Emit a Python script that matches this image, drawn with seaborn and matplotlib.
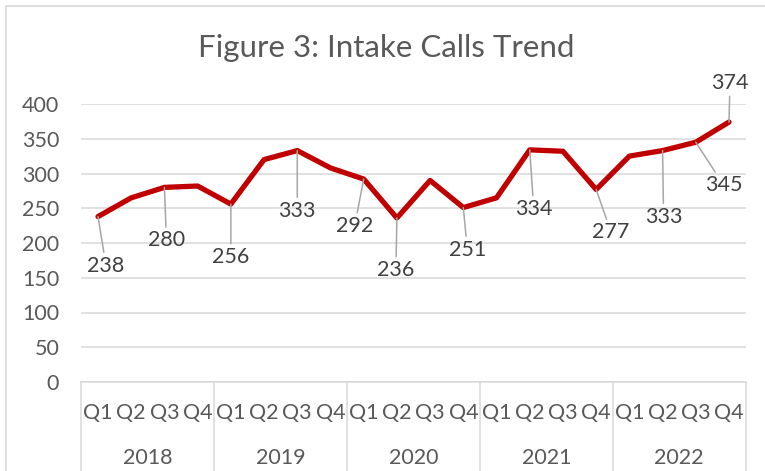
import matplotlib
matplotlib.use("Agg")
import matplotlib.pyplot as plt
import matplotlib.transforms as mtransforms
from matplotlib.lines import Line2D
import seaborn as sns
import pandas as pd

# ---- data ----
years = ["2018", "2019", "2020", "2021", "2022"]
quarters = ["Q1", "Q2", "Q3", "Q4"]
calls = [238, 265, 280, 282, 256, 320, 333, 308, 292, 236,
         290, 251, 265, 334, 332, 277, 325, 333, 345, 374]
labeled_idx = [0, 2, 4, 6, 8, 9, 11, 13, 15, 17, 18, 19]
title = "Figure 3: Intake Calls Trend"

# label offsets in pixels (layout only)
label_offsets = [(8, -49), (2, -53), (0, -53), (0, -60), (-9, -47), (-1, -52),
                 (4, -42), (4, -59), (15, -43), (1, -66), (28, -43), (1, 39)]

df = pd.DataFrame({
    "pos": list(range(len(calls))),
    "calls": calls,
    "quarter": [q for _ in years for q in quarters],
})

sns.set_theme(style="white")
plt.rcParams["font.family"] = ["Lato", "DejaVu Sans"]

W, H = 765, 471
fig = plt.figure(figsize=(W / 100, H / 100), dpi=100)
fig.patch.set_facecolor("white")

left, right = 81.4, 745.6
top_px, bot_px = 104, 382
ax = fig.add_axes([left / W, 1 - bot_px / H, (right - left) / W, (bot_px - top_px) / H])

sns.lineplot(data=df, x="pos", y="calls", ax=ax, color="#c00000", linewidth=3.8,
             solid_joinstyle="round", solid_capstyle="round", zorder=3)

ax.set_xlim(-0.5, len(calls) - 0.5)
ax.set_ylim(0, 400)
ax.set_yticks(range(0, 401, 50))
ax.set_xticks(df["pos"])
ax.set_xticklabels(df["quarter"])
ax.set_xlabel("")
ax.set_ylabel("")

tick_color = "#595959"
ax.tick_params(axis="y", length=0, pad=16, labelsize=15.5, labelcolor=tick_color)
ax.tick_params(axis="x", length=0, pad=15, labelsize=15.5, labelcolor=tick_color)

ax.yaxis.grid(True, color="#d9d9d9", linewidth=1.1)
ax.set_axisbelow(True)
for s in ["top", "right", "left"]:
    ax.spines[s].set_visible(False)
ax.spines["bottom"].set_color("#d9d9d9")
ax.spines["bottom"].set_linewidth(1.1)

# category group dividers and year labels
trans = mtransforms.blended_transform_factory(ax.transData, ax.transAxes)
for k in range(len(years) + 1):
    xb = k * 4 - 0.5
    ax.add_line(Line2D([xb, xb], [0, -0.33], transform=trans, color="#d9d9d9",
                       linewidth=1.1, clip_on=False))
for k, yr in enumerate(years):
    ax.text(k * 4 + 1.5, -0.273, yr, transform=trans, ha="center", va="center",
            fontsize=15.5, color=tick_color)

# data labels with leader lines
for idx, (dx, dy) in zip(labeled_idx, label_offsets):
    ax.annotate(str(calls[idx]), xy=(idx, calls[idx]), xytext=(dx, dy),
                textcoords="offset pixels", ha="center", va="center",
                fontsize=15.5, color="#404040",
                arrowprops=dict(arrowstyle="-", color="#a6a6a6", lw=1.1,
                                shrinkA=0, shrinkB=0),
                annotation_clip=False, zorder=4)

fig.text(386 / W, 1 - 48 / H, title, ha="center", va="center",
         fontsize=22.5, color="#595959")

# chart border (left and top visible)
fig.add_artist(Line2D([6 / W, 6 / W], [0, 1 - 6 / H], transform=fig.transFigure,
                      color="#d9d9d9", linewidth=1.2))
fig.add_artist(Line2D([6 / W, 1], [1 - 6 / H, 1 - 6 / H], transform=fig.transFigure,
                      color="#d9d9d9", linewidth=1.2))

fig.savefig("out.png", dpi=100)
